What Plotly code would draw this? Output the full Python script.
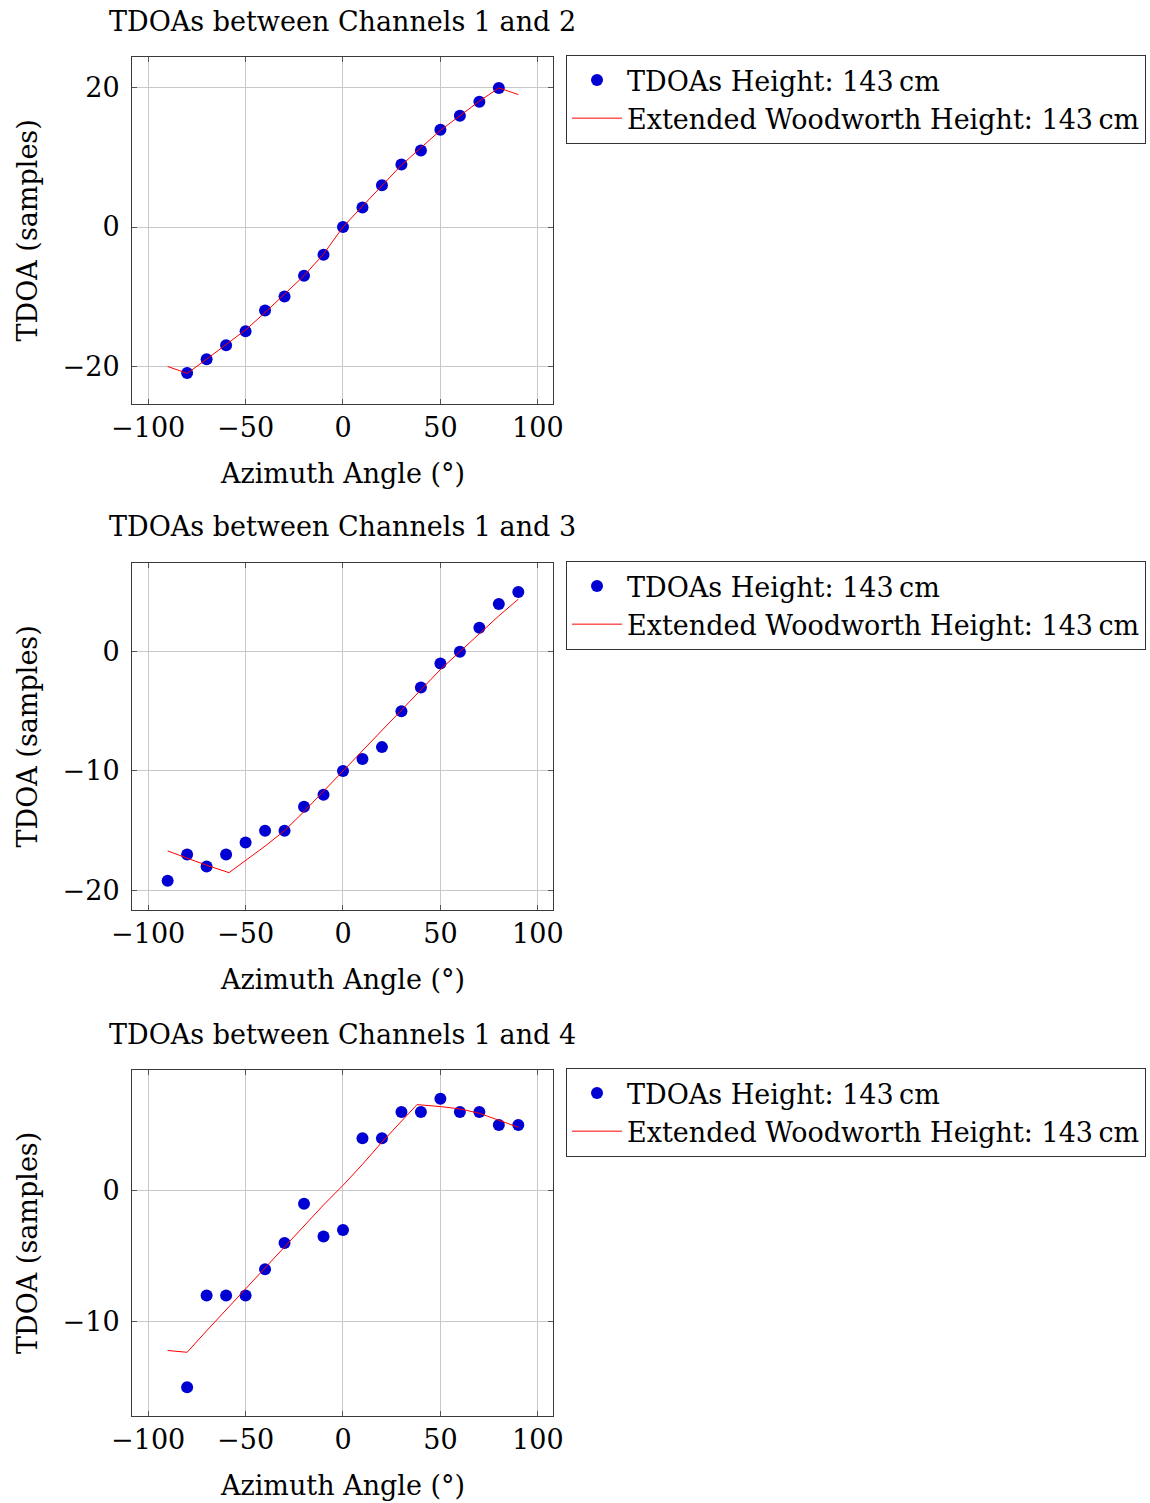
import plotly.graph_objects as go

# ---------------- data ----------------
angles = [-90, -80, -70, -60, -50, -40, -30, -20, -10, 0, 10, 20, 30, 40, 50, 60, 70, 80, 90]

# Channels 1-2
tdoa12_x = [-80, -70, -60, -50, -40, -30, -20, -10, 0, 10, 20, 30, 40, 50, 60, 70, 80]
tdoa12_y = [-21, -19, -17, -15, -12, -10, -7, -4, 0, 2.8, 6, 9, 11, 14, 16, 18, 20]
model12_x = [-90, -80, -70, -60, -50, -40, -30, -20, -10, 0, 10, 20, 30, 40, 50, 60, 70, 80, 90]
model12_y = [-20.05, -21.05, -19.0, -16.9, -14.8, -12.3, -9.7, -7.0, -3.9, 0.0, 3.0, 6.0, 8.9,
             11.4, 13.9, 16.0, 18.1, 20.0, 19.05]

# Channels 1-3
tdoa13_x = angles
tdoa13_y = [-19.2, -17, -18, -17, -16, -15, -15, -13, -12, -10, -9, -8, -5, -3, -1, 0, 2, 4, 5]
model13_x = [-90, -80, -70, -58.5, -50, -40, -30, -20, -10, 0, 10, 20, 30, 40, 50, 60, 70, 80, 90]
model13_y = [-16.7, -17.3, -17.9, -18.52, -17.5, -16.3, -15.0, -13.4, -11.7, -10.0, -8.3, -6.6,
             -4.9, -3.2, -1.5, 0.0, 1.5, 3.0, 4.4]

# Channels 1-4
tdoa14_x = [-80, -70, -60, -50, -40, -30, -20, -10, 0, 10, 20, 30, 40, 50, 60, 70, 80, 90]
tdoa14_y = [-15, -8, -8, -8, -6, -4, -1, -3.5, -3, 4, 4, 6, 6, 7, 6, 6, 5, 5]
model14_x = [-90, -80, -70, -60, -50, -40, -30, -20, -10, 0, 10, 20, 30, 38, 50, 60, 70, 80, 90]
model14_y = [-12.2, -12.34, -10.7, -9.1, -7.5, -5.9, -4.3, -2.7, -1.1, 0.4, 2.0, 3.7, 5.3, 6.56,
             6.41, 6.23, 5.9, 5.39, 4.83]

titles = ["TDOAs between Channels 1 and 2", "TDOAs between Channels 1 and 3",
          "TDOAs between Channels 1 and 4"]
legend_points = "TDOAs Height: 143\u2009cm"
legend_line = "Extended Woodworth Height: 143\u2009cm"
x_title = "Azimuth Angle (°)"
y_title = "TDOA (samples)"
x_ticks = [-100, -50, 0, 50, 100]
y_ticks = [[-20, 0, 20], [-20, -10, 0], [-10, 0]]
y_ranges = [[-25.45, 24.45], [-21.65, 7.43], [-17.2, 9.2]]

# ---------------- layout constants ----------------
W, H = 1150, 1503
FONT = "DejaVu Serif"
FS = 27
BLUE = "#0000D2"
RED = "#FF0000"
GRID = "#C8C8C8"
FRAME = "#3a3a3a"

px_left, px_right = 132, 553
panels_px = [(57, 404), (563, 910), (1070, 1416)]

fig = go.Figure()

data = [(tdoa12_x, tdoa12_y, model12_x, model12_y),
        (tdoa13_x, tdoa13_y, model13_x, model13_y),
        (tdoa14_x, tdoa14_y, model14_x, model14_y)]

annotations = []
for i, (px_, py_, mx_, my_) in enumerate(data):
    n = "" if i == 0 else str(i + 1)
    legname = "legend" if i == 0 else f"legend{i + 1}"
    fig.add_trace(go.Scatter(x=px_, y=py_, mode="markers", name=legend_points,
                             marker=dict(color=BLUE, size=12),
                             xaxis="x" + n, yaxis="y" + n, legend=legname))
    fig.add_trace(go.Scatter(x=mx_, y=my_, mode="lines", name=legend_line,
                             line=dict(color=RED, width=1),
                             xaxis="x" + n, yaxis="y" + n, legend=legname))
    top, bot = panels_px[i]
    ydom = [1 - bot / H, 1 - top / H]
    axis_common = dict(showline=True, mirror="ticks", linecolor=FRAME, linewidth=1,
                       ticks="inside", ticklen=5, tickcolor="#555555", tickwidth=1,
                       showgrid=True, gridcolor=GRID, gridwidth=1, zeroline=False,
                       automargin=False,
                       tickfont=dict(family=FONT, size=FS, color="black"))
    fig.update_layout(**{
        "xaxis" + n: dict(domain=[px_left / W, px_right / W], range=[-108.3, 107.8],
                          tickvals=x_ticks, anchor="y" + n, ticklabelstandoff=0,
                          **axis_common),
        "yaxis" + n: dict(domain=ydom, range=y_ranges[i], tickvals=y_ticks[i],
                          anchor="x" + n, ticklabelstandoff=6, **axis_common),
        legname: dict(x=566 / W, y=1 - (top - 2) / H, xanchor="left", yanchor="top",
                      bgcolor="white", bordercolor="#333333", borderwidth=1,
                      font=dict(family=FONT, size=FS, color="black"),
                      itemwidth=50, tracegroupgap=0),
    })
    # title
    cx = (px_left + px_right) / 2 / W
    annotations.append(dict(text=titles[i], x=cx, y=1 - (top - 36) / H, xref="paper",
                            yref="paper", xanchor="center", yanchor="middle",
                            showarrow=False, font=dict(family=FONT, size=FS, color="black")))
    annotations.append(dict(text=x_title, x=cx, y=1 - (bot + 69) / H, xref="paper",
                            yref="paper", xanchor="center", yanchor="middle",
                            showarrow=False, font=dict(family=FONT, size=FS, color="black")))
    annotations.append(dict(text=y_title, x=27 / W, y=1 - ((top + bot) / 2) / H, xref="paper",
                            yref="paper", xanchor="center", yanchor="middle", textangle=-90,
                            showarrow=False, font=dict(family=FONT, size=FS, color="black")))

fig.update_layout(width=W, height=H, margin=dict(l=0, r=0, t=0, b=0, autoexpand=False),
                  paper_bgcolor="white", plot_bgcolor="white",
                  annotations=annotations, showlegend=True)

fig.write_html("out.html")
